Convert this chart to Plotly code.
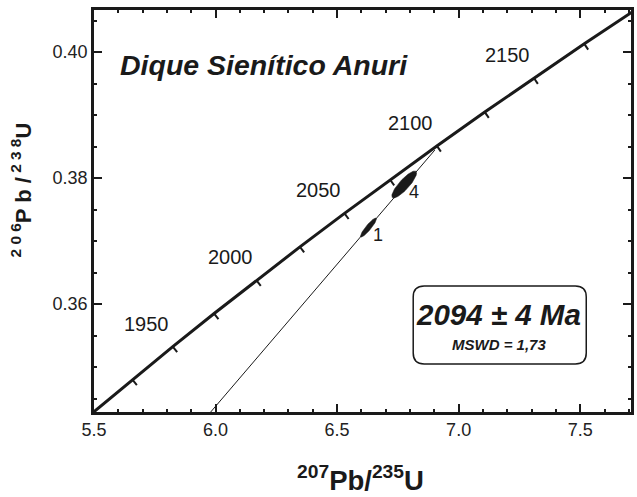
import numpy as np
import plotly.graph_objects as go

# ---------------- data ----------------
# Concordia reference points: age (Ma), 207Pb/235U, 206Pb/238U
conc_age = [1900, 1925, 1950, 1975, 2000, 2025, 2050, 2075, 2100, 2125, 2150, 2175, 2200]
conc_x = [5.4962, 5.6581, 5.8241, 5.9942, 6.1685, 6.3472, 6.5304, 6.7181, 6.9104, 7.1076, 7.3097, 7.5169, 7.7292]
conc_y = [0.34278, 0.34799, 0.35323, 0.35849, 0.36377, 0.36907, 0.37439, 0.37973, 0.38509, 0.39047, 0.39587, 0.40130, 0.40674]
label_ages = [1950, 2000, 2050, 2100, 2150]

# Discordia line end points
disc_x = [5.980, 6.902]
disc_y = [0.34286, 0.38444]

# Analysed spots (error ellipses)
spot_names = ["1", "4"]
spot_x = [6.629, 6.776]
spot_sx = [0.033, 0.051]
spot_y = [0.37214, 0.37897]
spot_sy = [0.00151, 0.00214]
spot_rho = [0.91, 0.85]

title_text = "Dique Sienítico Anuri"
age_text = "2094 ± 4 Ma"
mswd_text = "MSWD = 1,73"

# ---------------- layout constants ----------------
W, H = 637, 497
ML, MR, MT, MB = 94, 3, 10, 85
XR = [5.5, 7.709]
YR = [0.34286, 0.40667]
PW, PH = W - ML - MR, H - MT - MB
SX = PW / (XR[1] - XR[0])
SY = PH / (YR[1] - YR[0])

SANS = "Liberation Sans, Arial, Helvetica"
INK = "#1a1a1a"

fig = go.Figure()

# concordia curve
fig.add_trace(go.Scatter(x=conc_x, y=conc_y, mode="lines",
                         line=dict(color=INK, width=3), hoverinfo="skip", showlegend=False))

# concordia age ticks
tx, ty = [], []
L = 7.0
for i in range(1, len(conc_age) - 1):
    dxp = (conc_x[i + 1] - conc_x[i - 1]) * SX
    dyp = (conc_y[i + 1] - conc_y[i - 1]) * SY
    n = np.hypot(dxp, dyp)
    ux, uy = dxp / n, dyp / n
    tx += [conc_x[i], conc_x[i] + L * uy / SX, None]
    ty += [conc_y[i], conc_y[i] - L * ux / SY, None]
fig.add_trace(go.Scatter(x=tx, y=ty, mode="lines", line=dict(color=INK, width=2),
                         hoverinfo="skip", showlegend=False))

# discordia
fig.add_trace(go.Scatter(x=disc_x, y=disc_y, mode="lines",
                         line=dict(color=INK, width=1), hoverinfo="skip", showlegend=False))

# error ellipses
t = np.linspace(0, 2 * np.pi, 90)
for cx, sx, cy, sy, r in zip(spot_x, spot_sx, spot_y, spot_sy, spot_rho):
    ex = cx + sx * np.cos(t)
    ey = cy + sy * (r * np.cos(t) + np.sqrt(1 - r * r) * np.sin(t))
    fig.add_trace(go.Scatter(x=ex, y=ey, mode="lines", fill="toself", fillcolor=INK,
                             line=dict(color=INK, width=0.5), hoverinfo="skip", showlegend=False))

ann = []
# age labels on concordia
for a in label_ages:
    i = conc_age.index(a)
    ann.append(dict(x=conc_x[i], y=conc_y[i], xref="x", yref="y", text=str(a), showarrow=False,
                    xanchor="center", yanchor="middle",
                    xshift=-26, yshift=23, font=dict(family=SANS, size=20, color=INK)))
# spot labels
for nm, cx, cy in zip(spot_names, spot_x, spot_y):
    ann.append(dict(x=cx, y=cy, xref="x", yref="y", text=nm, showarrow=False,
                    xanchor="center", yanchor="middle",
                    xshift=10, yshift=-7, font=dict(family=SANS, size=18, color=INK)))


def px2paper(px, py):
    return (px - ML) / PW, (H - MB - py) / PH


def add_text(px, py, text, size, angle=0, family=SANS):
    x0, y0 = px2paper(px, py)
    ann.append(dict(x=x0, y=y0, xref="paper", yref="paper", text=text, showarrow=False,
                    xanchor="center", yanchor="middle", textangle=angle,
                    font=dict(family=family, size=size, color=INK)))


# title
add_text(265, 65, f"<b><i>{title_text}</i></b>", 28.5)
# result box texts
add_text(501, 314, f"<b><i>{age_text}</i></b>", 29.5)
add_text(501, 344, f"<b><i>{mswd_text}</i></b>", 15)
# axis titles
add_text(362, 478, "<b><sup>207</sup>Pb/<sup>235</sup>U</b>", 27.5)
add_text(21, 190, "<b><sup>2 0 6</sup>P b /<sup> 2 3 8</sup>U</b>", 22, angle=-90)

# rounded rectangle for result box
bl, br, bt, bb, rr = 415, 589, 286, 364, 11
def P(px, py):
    a, b = px2paper(px, py)
    return f"{a:.5f},{b:.5f}"
path = (f"M {P(bl + rr, bt)} L {P(br - rr, bt)} Q {P(br, bt)} {P(br, bt + rr)} "
        f"L {P(br, bb - rr)} Q {P(br, bb)} {P(br - rr, bb)} "
        f"L {P(bl + rr, bb)} Q {P(bl, bb)} {P(bl, bb - rr)} "
        f"L {P(bl, bt + rr)} Q {P(bl, bt)} {P(bl + rr, bt)} Z")
shapes = [dict(type="path", xref="paper", yref="paper", path=path,
               line=dict(color=INK, width=1.5), fillcolor="rgba(0,0,0,0)")]

axis_common = dict(showline=True, linecolor=INK, linewidth=2.5, mirror="ticks",
                   ticks="inside", ticklen=8, tickwidth=2, tickcolor=INK,
                   showgrid=False, zeroline=False,
                   tickfont=dict(family=SANS, size=18, color="#222"))

fig.update_layout(
    width=W, height=H, margin=dict(l=ML, r=MR, t=MT, b=MB),
    paper_bgcolor="white", plot_bgcolor="white", showlegend=False,
    xaxis=dict(range=XR, tick0=5.5, dtick=0.5, tickformat=".1f",
               minor=dict(ticks="inside", ticklen=3, tickwidth=2, tickcolor=INK, dtick=0.1, tick0=5.5),
               **axis_common),
    yaxis=dict(range=YR, tick0=0.36, dtick=0.02, tickformat=".2f",
               minor=dict(ticks="inside", ticklen=3, tickwidth=2, tickcolor=INK, dtick=0.005, tick0=0.36),
               **axis_common),
    annotations=ann, shapes=shapes,
)

fig.write_html("out.html", config={"displayModeBar": False},
               post_script="document.body.style.margin='0';")
